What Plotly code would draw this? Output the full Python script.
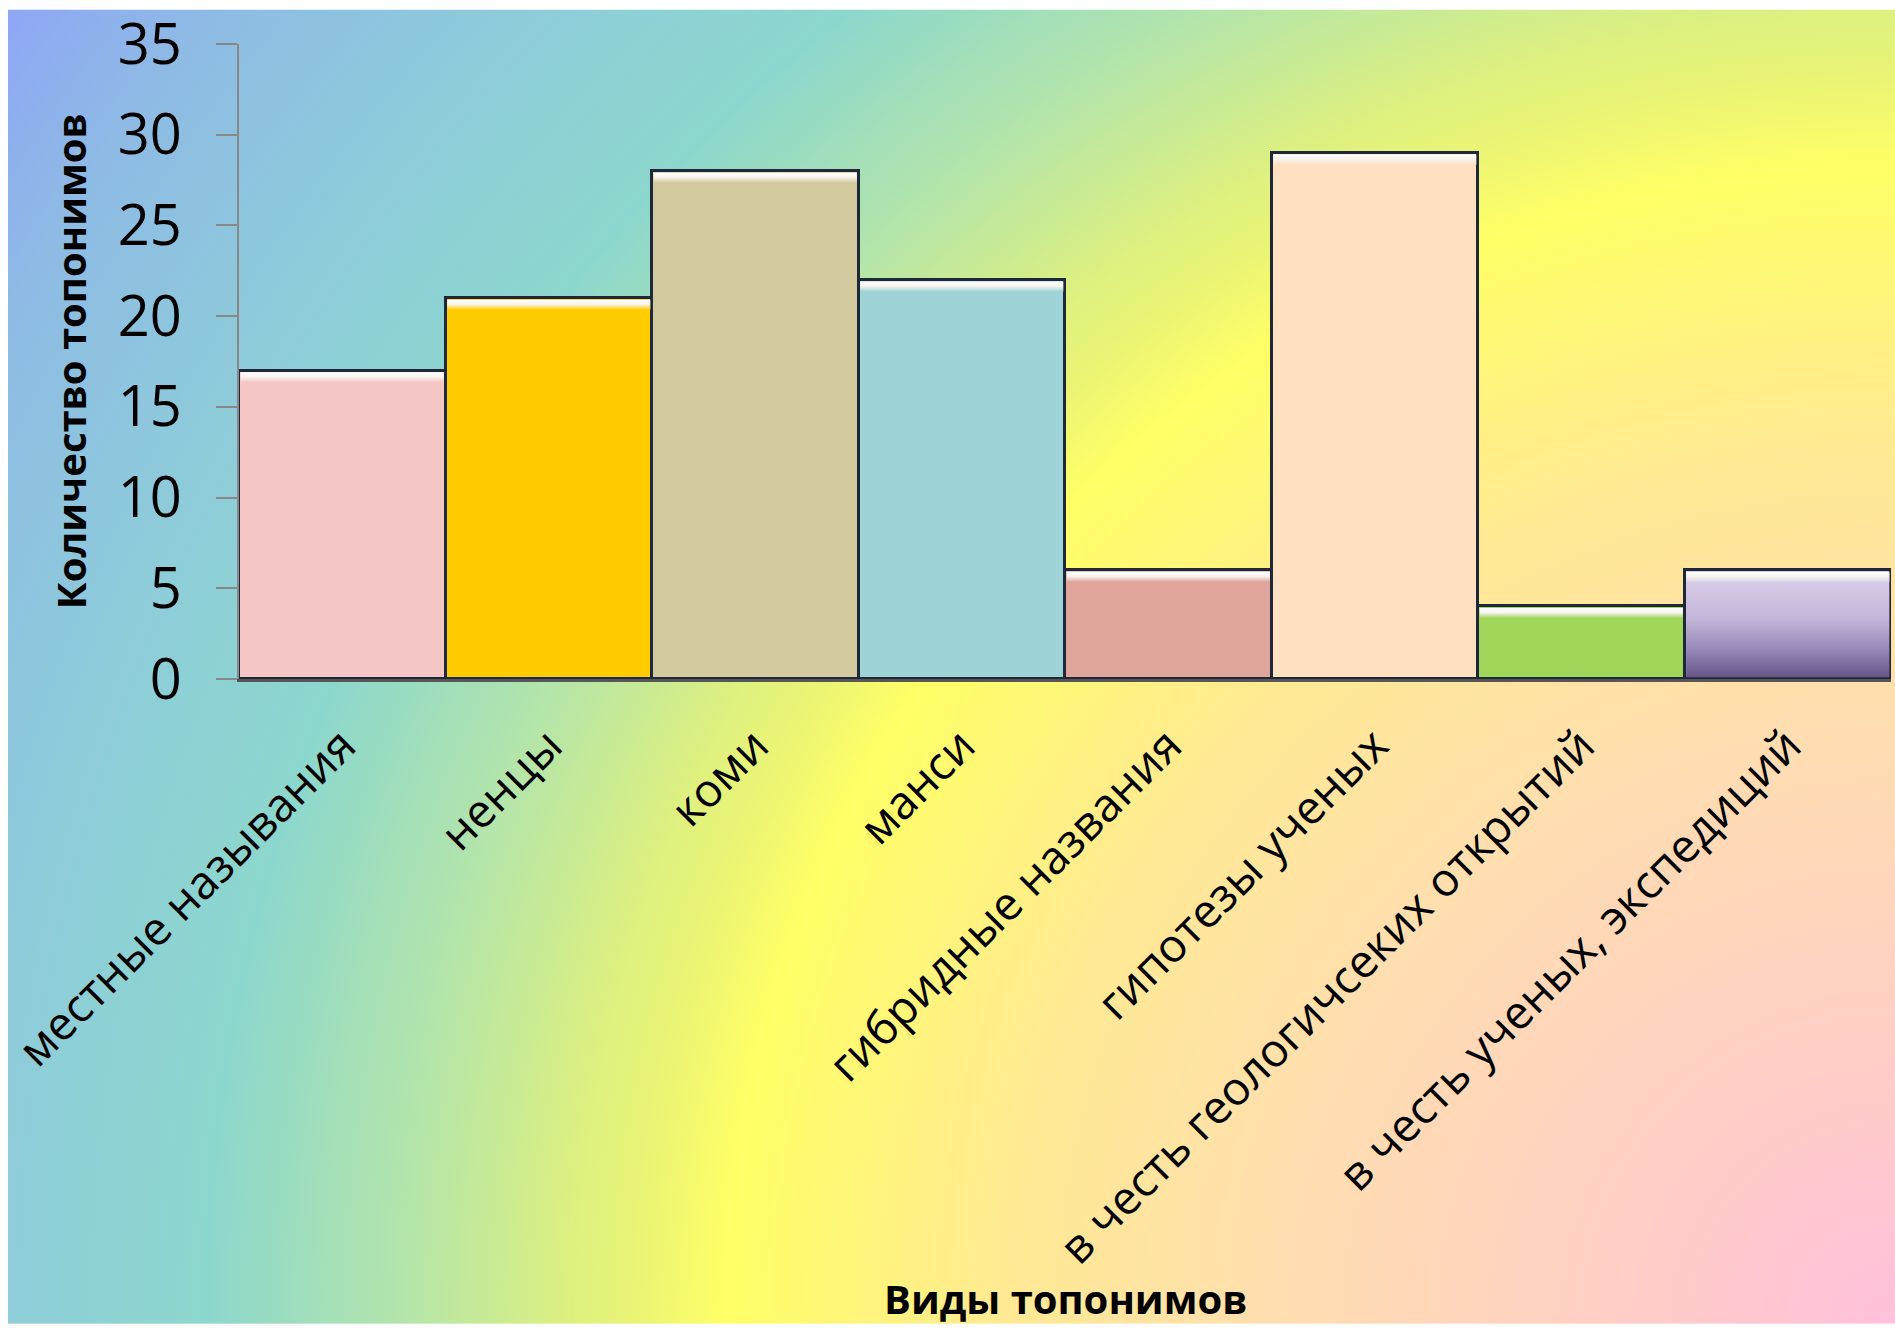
import base64
import plotly.graph_objects as go

categories = [
    "местные называния",
    "ненцы",
    "коми",
    "манси",
    "гибридные названия",
    "гипотезы ученых",
    "в честь геологичсеких открытий",
    "в честь ученых, экспедиций",
]
values = [17, 21, 28, 22, 6, 29, 4, 6]
bar_colors = ["#F5C6C6", "#FFCC00", "#D3C99F", "#9ED4D7", "#E0A59A", "#FFE0C0", "#A0D65A", "#C0B0D6"]
y_ticks = [0, 5, 10, 15, 20, 25, 30, 35]

W, H = 1895, 1333
L, R, T, B = 232, 4, 35, 654
pw, ph = W - L - R, H - T - B
outline = "#1E2838"

stops = [(0, "#FFC0DC"), (0.103, "#FFCCC8"), (0.266, "#FFDEB0"), (0.388, "#FFEA92"),
         (0.507, "#FFFF66"), (0.537, "#EEF672"), (0.575, "#DDF080"), (0.645, "#B4E5AA"),
         (0.732, "#8CD7CD"), (0.818, "#8ECDD9"), (0.927, "#8EBBE4"), (1.0, "#8FA6F6")]
stop_xml = "".join(f'<stop offset="{o}" stop-color="{c}"/>' for o, c in stops)
svg = f'''<svg xmlns="http://www.w3.org/2000/svg" width="{W}" height="{H}" viewBox="0 0 {W} {H}" preserveAspectRatio="none">
<defs><radialGradient id="g" gradientUnits="userSpaceOnUse" cx="{W}" cy="{H}" r="2317" fx="{W}" fy="{H}">
{stop_xml}</radialGradient></defs>
<rect x="0" y="0" width="{W}" height="{H}" fill="url(#g)"/></svg>'''
src = "data:image/svg+xml;base64," + base64.b64encode(svg.encode()).decode()

fig = go.Figure()
fig.add_trace(go.Bar(
    x=categories, y=values,
    marker=dict(color=bar_colors, line=dict(color=outline, width=3)),
    showlegend=False, hoverinfo="x+y",
))

# purple bar: vertical gradient fill (drawn on a hidden linear overlay axis)
i_p = len(values) - 1
v_p = values[i_p]
ix = 0.008
fig.add_trace(go.Scatter(
    x=[i_p - 0.5 + ix, i_p + 0.5 - ix, i_p + 0.5 - ix, i_p - 0.5 + ix, i_p - 0.5 + ix],
    y=[0.09, 0.09, v_p - 0.09, v_p - 0.09, 0.09],
    xaxis="x2", mode="lines", line=dict(width=0), fill="toself",
    fillgradient=dict(type="vertical",
                      colorscale=[[0, "#675587"], [0.25, "#9485B6"], [0.55, "#C3B5D9"], [1, "#DCD2EA"]]),
    showlegend=False, hoverinfo="skip",
))

# bevel highlight at the top of each bar
for i, (v, c) in enumerate(zip(values, bar_colors)):
    top_c = "#DCD2EA" if i == i_p else c
    fig.add_trace(go.Scatter(
        x=[i - 0.5 + ix, i + 0.5 - ix, i + 0.5 - ix, i - 0.5 + ix, i - 0.5 + ix],
        y=[v - 0.65, v - 0.65, v - 0.09, v - 0.09, v - 0.65],
        xaxis="x2", mode="lines", line=dict(width=0), fill="toself",
        fillgradient=dict(type="vertical",
                          colorscale=[[0, top_c], [0.55, "#F8F4EE"], [1, "#FFFFFF"]]),
        showlegend=False, hoverinfo="skip",
    ))

font = "Open Sans, sans-serif"
fig.update_layout(
    width=W, height=H,
    margin=dict(l=L, r=R, t=T, b=B, pad=0),
    paper_bgcolor="rgba(0,0,0,0)", plot_bgcolor="rgba(0,0,0,0)",
    bargap=0,
    font=dict(family=font, color="#000000"),
    images=[dict(source=src, xref="paper", yref="paper",
                 x=-L / pw, y=1 + T / ph, sizex=W / pw, sizey=H / ph,
                 xanchor="left", yanchor="top", sizing="stretch", layer="below")],
    xaxis=dict(showline=True, linecolor="#565656", linewidth=3, ticks="",
               tickangle=-45, tickfont=dict(size=46, family=font),
               ticklabelstandoff=18, showgrid=False, zeroline=False),
    xaxis2=dict(overlaying="x", range=[-0.5, len(values) - 0.5], visible=False,
                showgrid=False, zeroline=False, anchor="y"),
    yaxis=dict(range=[0, 35], tickvals=y_ticks, showline=True, linecolor="#888888", linewidth=2,
               ticks="outside", ticklen=21, tickwidth=2, tickcolor="#888888",
               tickfont=dict(size=56, family=font), ticklabelstandoff=23,
               ticklabeloverflow="allow", showgrid=False, zeroline=False),
    annotations=[
        dict(text="<b>Количество топонимов</b>", xref="paper", yref="paper",
             x=(63 - L) / pw, y=0.5, xanchor="center", yanchor="middle", textangle=-90,
             showarrow=False, font=dict(size=40, family=font)),
        dict(text="<b>Виды топонимов</b>", xref="paper", yref="paper",
             x=0.5, y=-(1307 - (T + ph)) / ph, xanchor="center", yanchor="middle",
             showarrow=False, font=dict(size=40, family=font)),
    ],
)

# remove the default page margin synchronously (before the page finishes loading)
reset = "document.body.style.margin='0';document.body.style.padding='0';document.documentElement.style.overflow='hidden';"
fig.write_html(
    "out.html",
    config={"displayModeBar": False},
    post_script="}); " + reset + " (function(){",
)
